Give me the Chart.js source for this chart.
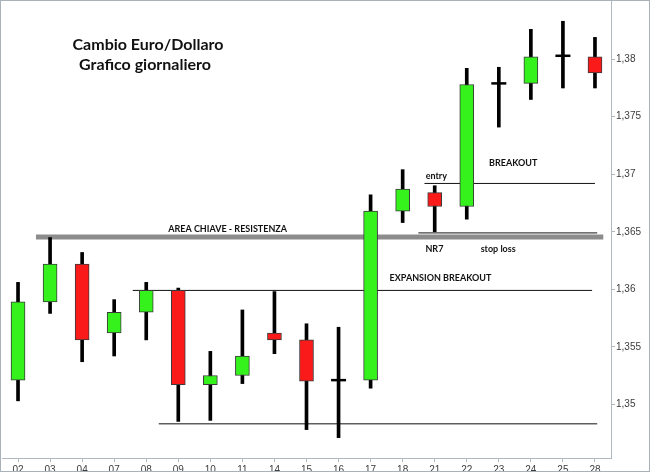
<!DOCTYPE html>
<html>
<head>
<meta charset="utf-8">
<script src="https://cdn.jsdelivr.net/npm/chart.js@4.4.0/dist/chart.umd.min.js"></script>
<style>
    html, body { margin: 0; padding: 0; background: #fff; }
    #wrap { width: 650px; height: 474px; }
</style>
</head>
<body>
<div id="wrap"><canvas id="candles"></canvas></div>
<script>
// giorni di contrattazione
var days = ['02', '03', '04', '07', '08', '09', '10', '11', '14', '15', '16', '17', '18', '21', '22', '23', '24', '25', '28'];

// prezzi EUR/USD
var opens  = [1.3521, 1.3589, 1.3622, 1.3562, 1.3580, 1.3599, 1.3517, 1.3525, 1.3562, 1.3556, 1.3521, 1.3521, 1.3668, 1.3684, 1.3672, 1.3779, 1.3779, 1.3803, 1.3802];
var highs  = [1.3606, 1.3645, 1.3632, 1.3591, 1.3606, 1.3601, 1.3546, 1.3582, 1.3598, 1.3570, 1.3567, 1.3682, 1.3704, 1.3690, 1.3792, 1.3793, 1.3826, 1.3833, 1.3819];
var lows   = [1.3503, 1.3579, 1.3537, 1.3542, 1.3556, 1.3485, 1.3486, 1.3518, 1.3544, 1.3478, 1.3471, 1.3514, 1.3658, 1.3650, 1.3661, 1.3741, 1.3765, 1.3775, 1.3775];
var closes = [1.3589, 1.3622, 1.3556, 1.3580, 1.3599, 1.3517, 1.3525, 1.3542, 1.3556, 1.3520, 1.3521, 1.3668, 1.3687, 1.3672, 1.3778, 1.3779, 1.3802, 1.3803, 1.3788];

// tacche asse prezzi
var priceTicks = [1.35, 1.355, 1.36, 1.365, 1.37, 1.375, 1.38];

// livelli orizzontali (indice iniziale, indice finale, prezzo)
var resistenza = [0.56, 18.26, 1.36455];
var expansion  = [3.58, 17.91, 1.3599];
var minimi     = [4.39, 18.07, 1.3483];
var entry      = [12.68, 18.0, 1.3692];
var stopLoss   = [12.49, 18.07, 1.3649];

var GREEN = '#35f21c';
var RED = '#fb1a1a';

var bodies = [], wicks = [], dojis = [], bodyColors = [];
for (var i = 0; i < days.length; i++) {
    wicks.push([lows[i], highs[i]]);
    if (opens[i] == closes[i]) {
        bodies.push(null);
        dojis.push(closes[i]);
        bodyColors.push(GREEN);
    } else {
        bodies.push([Math.min(opens[i], closes[i]), Math.max(opens[i], closes[i])]);
        dojis.push(null);
        bodyColors.push(closes[i] > opens[i] ? GREEN : RED);
    }
}

function level(l, color, width) {
    return {
        type: 'line',
        xAxisID: 'x2',
        data: [{x: l[0], y: l[2]}, {x: l[1], y: l[2]}],
        borderColor: color,
        borderWidth: width,
        pointRadius: 0,
        order: 5
    };
}

// niente margini extra per le etichette degli assi
function noPadding(scale) {
    scale.paddingLeft = 0;
    scale.paddingRight = 0;
    scale.paddingTop = 0;
    scale.paddingBottom = 0;
}

// scritte sul grafico, in coordinate di scala
var notes = [
    {text: 'AREA CHIAVE - RESISTENZA', x: 6.54, y: 1.36527},
    {text: 'BREAKOUT', x: 15.45, y: 1.3710},
    {text: 'entry', x: 13.05, y: 1.36987},
    {text: 'NR7', x: 12.99, y: 1.36353},
    {text: 'stop loss', x: 14.98, y: 1.36353},
    {text: 'EXPANSION BREAKOUT', x: 13.18, y: 1.36093}
];

var textPlugin = {
    id: 'textPlugin',
    afterDraw: function (chart) {
        var ctx = chart.ctx;
        var sx = chart.scales.x2, sy = chart.scales.y;
        ctx.save();
        ctx.fillStyle = '#111';
        ctx.textAlign = 'center';
        ctx.textBaseline = 'middle';
        ctx.font = 'bold 9px Lato';
        notes.forEach(function (n) {
            ctx.fillText(n.text, sx.getPixelForValue(n.x), sy.getPixelForValue(n.y));
        });
        ctx.font = 'bold 16px Lato';
        ctx.fillText('Cambio Euro/Dollaro', 148, 45);
        ctx.fillText('Grafico giornaliero', 145, 65);
        // cornice
        ctx.strokeStyle = '#a9b1ba';
        ctx.lineWidth = 1;
        ctx.strokeRect(0.5, 0.5, 649, 471);
        ctx.restore();
    }
};

var ctx = document.getElementById('candles').getContext('2d');
new Chart(ctx, {
    type: 'bar',
    data: {
        labels: days,
        datasets: [
            {
                data: bodies,
                backgroundColor: bodyColors,
                borderColor: '#3a3a3a',
                borderWidth: 1,
                borderSkipped: false,
                barThickness: 14,
                grouped: false,
                order: 1
            },
            {
                type: 'line',
                data: dojis,
                showLine: false,
                pointStyle: 'line',
                pointRadius: 7.5,
                pointBorderWidth: 2.5,
                pointBorderColor: '#000',
                order: 0
            },
            {
                data: wicks,
                backgroundColor: '#000',
                borderWidth: 0,
                barThickness: 3,
                grouped: false,
                order: 3
            },
            level(resistenza, '#8c8c8c', 5),
            level(expansion, '#111', 1),
            level(minimi, '#111', 1),
            level(entry, '#111', 1),
            level(stopLoss, '#111', 1)
        ]
    },
    options: {
        responsive: true,
        maintainAspectRatio: false,
        animation: false,
        layout: {autoPadding: false, padding: {left: 2, top: 0, right: 1, bottom: 2}},
        plugins: {
            legend: {display: false},
            tooltip: {enabled: false}
        },
        scales: {
            x: {
                type: 'category',
                offset: true,
                grid: {display: true, drawOnChartArea: false, tickLength: 4, color: '#b0b8c0', offset: false},
                border: {display: true, color: '#b0b8c0'},
                ticks: {font: {family: 'Liberation Sans', size: 10}, color: '#3c3c3c', padding: 2, maxRotation: 0, autoSkip: false},
                afterFit: function (scale) { scale.height = 14; noPadding(scale); }
            },
            x2: {
                type: 'linear',
                display: false,
                offset: false,
                grid: {offset: false},
                min: -0.5,
                max: 18.5
            },
            y: {
                position: 'right',
                min: 1.34533,
                max: 1.38515,
                grid: {display: true, drawOnChartArea: false, tickLength: 4, color: '#b0b8c0'},
                border: {display: true, color: '#b0b8c0'},
                afterBuildTicks: function (scale) {
                    scale.ticks = priceTicks.map(function (v) { return {value: v}; });
                },
                ticks: {
                    font: {family: 'Liberation Sans', size: 10},
                    color: '#3c3c3c',
                    padding: 1,
                    callback: function (v) { return String(Number(v.toFixed(3))).replace('.', ','); }
                },
                afterFit: function (scale) { scale.width = 38; noPadding(scale); }
            }
        }
    },
    plugins: [textPlugin]
});
</script>
</body>
</html>
